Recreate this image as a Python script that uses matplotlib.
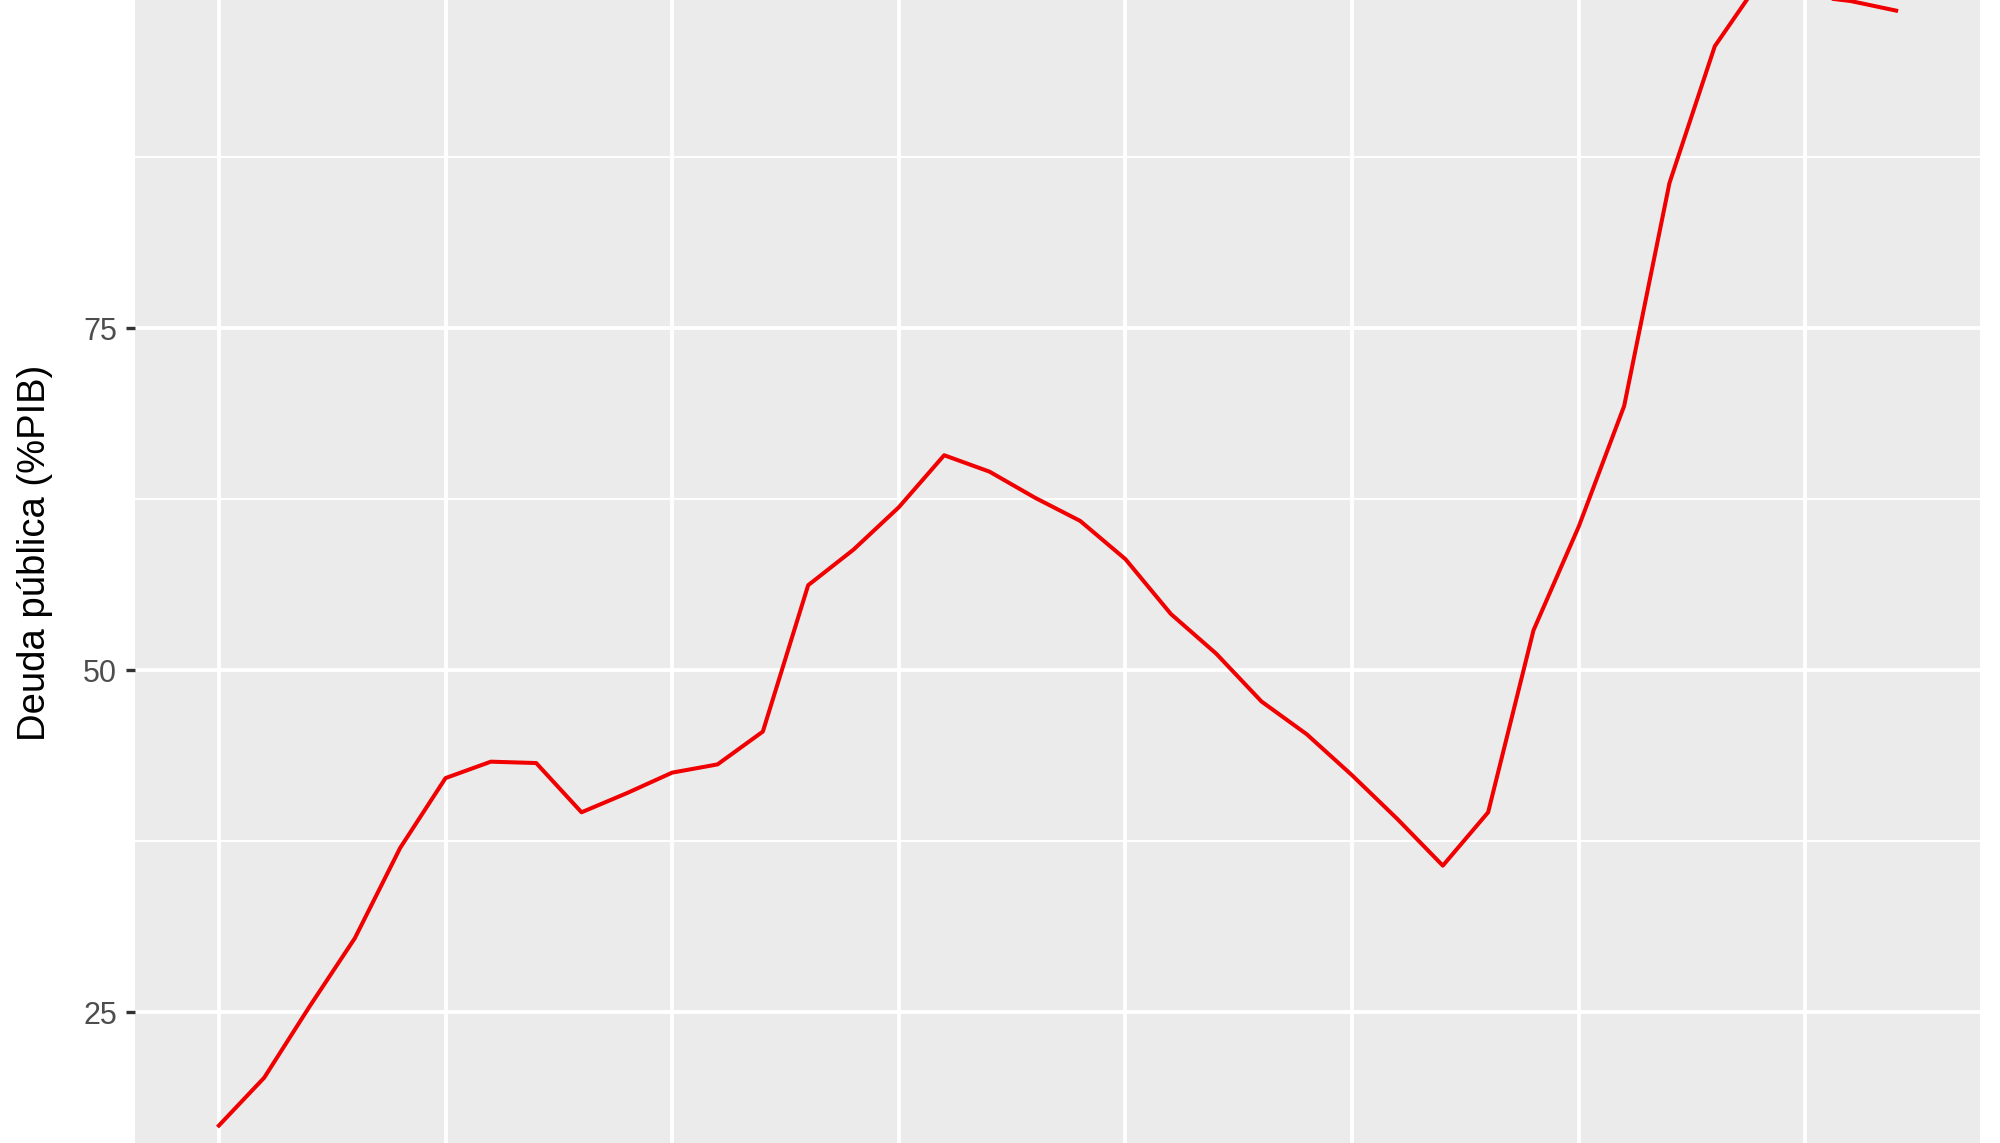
import matplotlib
matplotlib.use("Agg")
import matplotlib.pyplot as plt
from matplotlib.ticker import MultipleLocator

# data (public debt, % of GDP)
years = list(range(1980, 2018))
debt = [16.7, 20.2, 25.4, 30.4, 37.0, 42.1, 43.3, 43.2, 39.6, 41.0,
        42.5, 43.1, 45.5, 56.2, 58.8, 61.9, 65.7, 64.5, 62.6, 60.9,
        58.1, 54.1, 51.2, 47.7, 45.3, 42.3, 39.1, 35.7, 39.6, 52.9,
        60.5, 69.3, 85.6, 95.6, 100.4, 99.3, 98.9, 98.2]
y_ticks = [25, 50, 75, 100]
y_label = "Deuda pública (%PIB)"

plt.rcParams['font.family'] = ['Liberation Sans', 'DejaVu Sans']

W, H = 2000, 1143
fig = plt.figure(figsize=(W / 100, H / 100), dpi=100)

# panel is larger than the picture (the original was cropped)
left, right = 135, 1980
top, bottom = -78.3, 1184.4
ax = fig.add_axes([left / W, (H - bottom) / H, (right - left) / W, (bottom - top) / H])

ax.set_facecolor('#EBEBEB')
ax.plot(years, debt, color='#F00000', linewidth=2.9, zorder=3)

ax.set_xlim(1978.15, 2018.85)
ax.set_ylim(12.4, 104.7)

ax.xaxis.set_major_locator(MultipleLocator(5))
ax.set_yticks(y_ticks)
ax.yaxis.set_minor_locator(MultipleLocator(12.5))

ax.grid(which='major', color='white', linewidth=2.8)
ax.grid(which='minor', axis='y', color='white', linewidth=1.4)
ax.set_axisbelow(True)

for s in ax.spines.values():
    s.set_visible(False)

ax.tick_params(axis='y', which='major', length=6.5, width=2.4, color='#333333',
               labelsize=22, labelcolor='#4D4D4D', pad=6.5)
ax.tick_params(axis='y', which='minor', length=0)
ax.tick_params(axis='x', which='both', length=0, labelbottom=False)

ax.set_ylabel(y_label, fontsize=27.5, color='black')
ax.yaxis.label.set_verticalalignment('center')
ax.yaxis.set_label_coords(-0.054, 0.5)

fig.savefig('out.png', dpi=100)
